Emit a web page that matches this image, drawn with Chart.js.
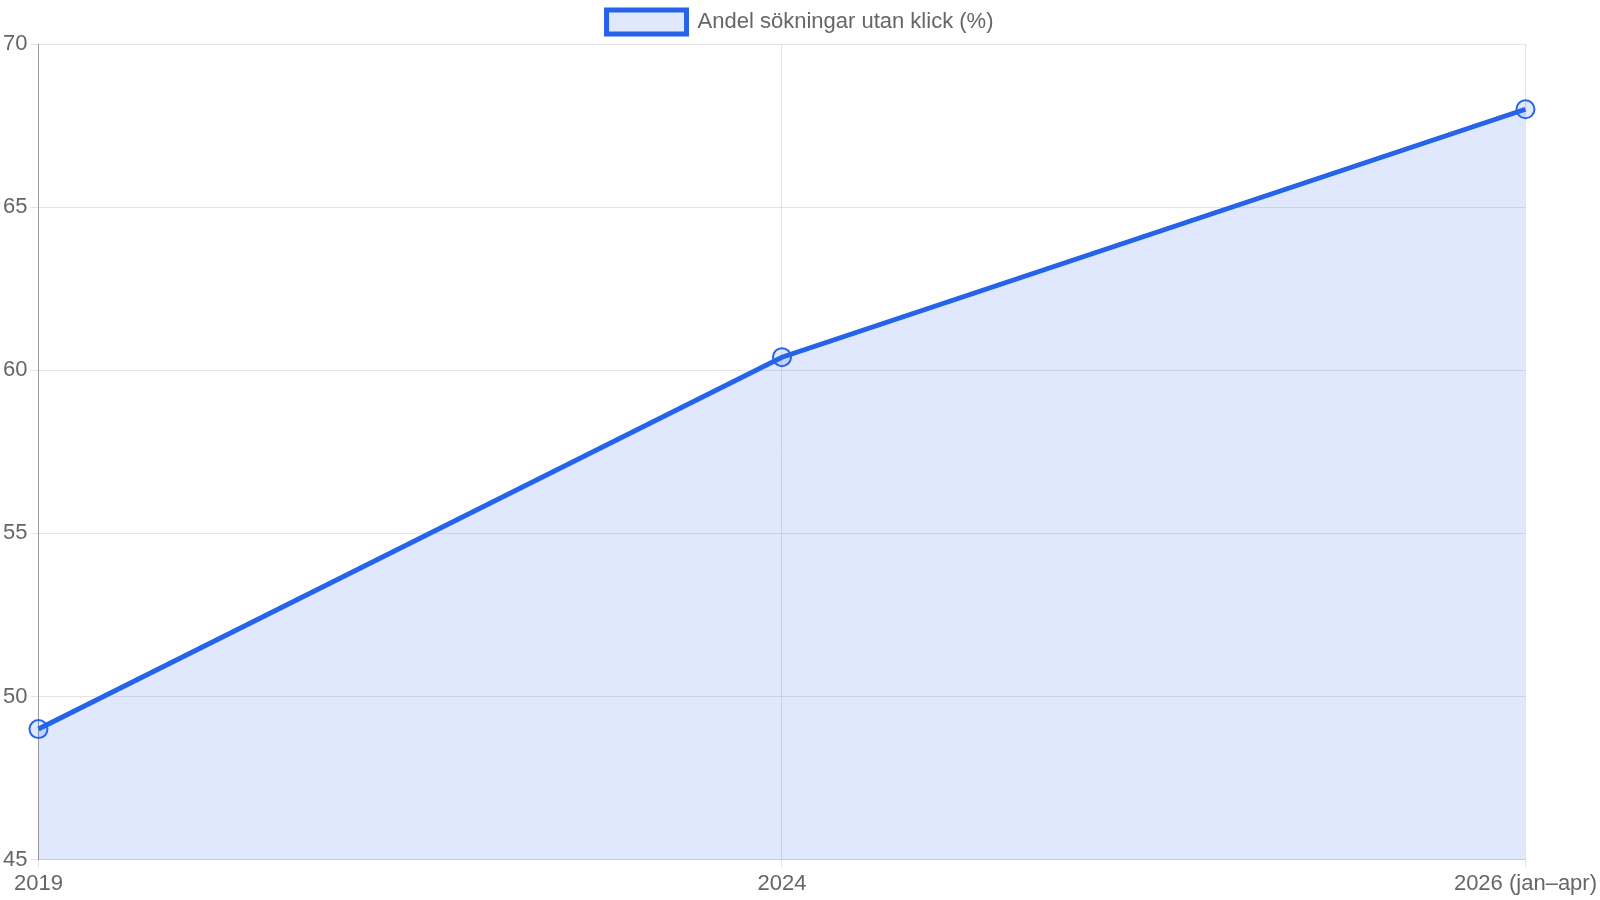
<!DOCTYPE html>
<html><head><meta charset="utf-8">
<script src="https://cdn.jsdelivr.net/npm/chart.js@4"></script>
<style>html,body{margin:0;padding:0;background:#fff}#w{width:1600px;height:900px}</style>
</head><body><div id="w"><canvas id="c"></canvas></div>
<script>
const categories = ["2019", "2024", "2026 (jan–apr)"];
const values = [49, 60.4, 68];
const seriesLabel = "Andel sökningar utan klick (%)";
Chart.defaults.font.family = "'Liberation Sans', Arial, sans-serif";
Chart.defaults.font.size = 22;
Chart.defaults.color = "#666";
new Chart(document.getElementById('c'), {
  type: 'line',
  data: { labels: categories, datasets: [{
    label: seriesLabel, data: values,
    borderColor: '#2563eb', backgroundColor: 'rgba(37,99,235,0.15)',
    borderWidth: 5, fill: true, tension: 0,
    pointRadius: 9, pointBorderWidth: 2, pointBackgroundColor: 'rgba(37,99,235,0.15)', pointBorderColor: '#2563eb'
  }]},
  options: {
    responsive: true, maintainAspectRatio: false, animation: false,
    plugins: { legend: { labels: { boxWidth: 80, boxHeight: 24, font: { size: 22 } } } },
    scales: {
      y: { min: 45, max: 70, ticks: { stepSize: 5 }, border: { color: '#999' } },
      x: { ticks: { maxRotation: 0 } }
    }
  }
});
</script></body></html>
